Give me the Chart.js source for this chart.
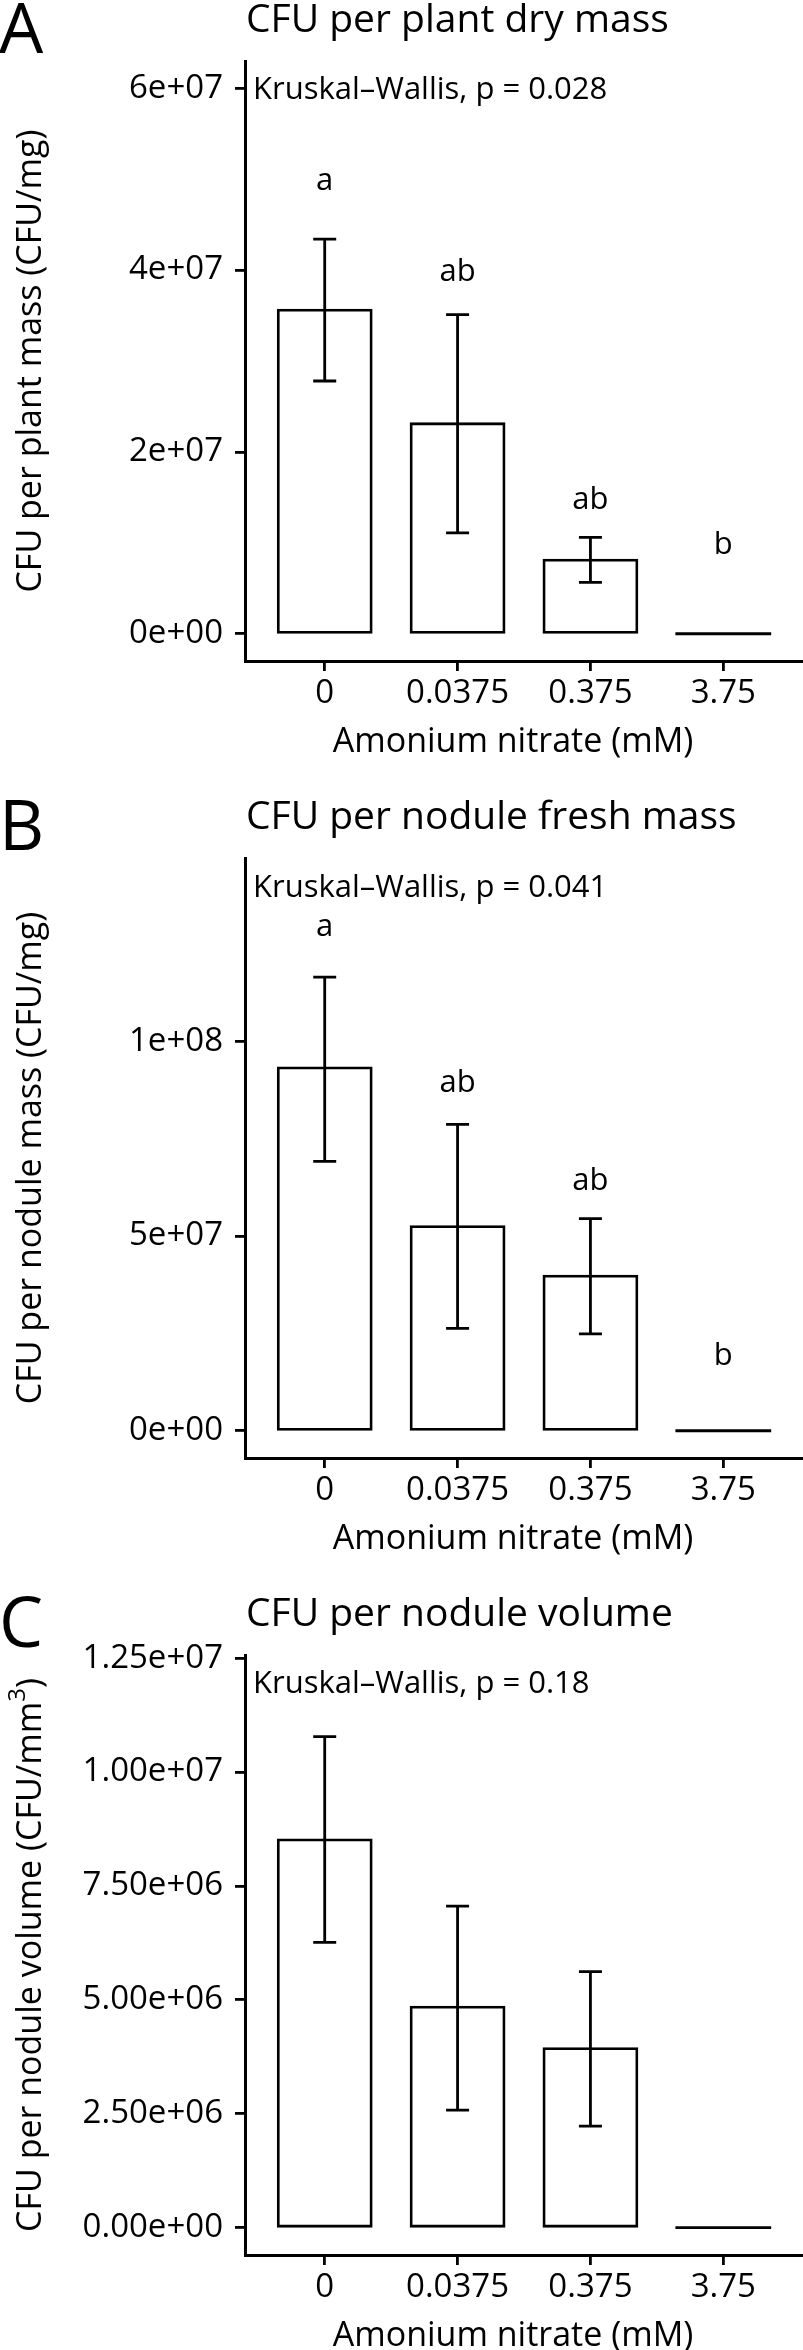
<!DOCTYPE html>
<html><head><meta charset="utf-8">
<script src="https://cdn.jsdelivr.net/npm/chart.js@4.4.1/dist/chart.umd.min.js"></script>
<style>
html,body{margin:0;padding:0;background:#fff;width:803px;height:2350px;overflow:hidden;}
.panel{position:absolute;left:0;width:803px;height:797px;}
canvas{display:block;}
</style></head><body>
<div class="panel" style="top:0px"><canvas id="cA" width="803" height="797"></canvas></div>
<div class="panel" style="top:797px"><canvas id="cB" width="803" height="797"></canvas></div>
<div class="panel" style="top:1594px"><canvas id="cC" width="803" height="797"></canvas></div>
<script>
// ---------- data ----------
const categories = ['0', '0.0375', '0.375', '3.75'];
const xAxisTitle = 'Amonium nitrate (mM)';

// Panel A
const titleA = 'CFU per plant dry mass';
const yTitleA = 'CFU per plant mass (CFU/mg)';
const meanA = [3.56e7, 2.31e7, 0.81e7, 0];
const errLowA = [2.78e7, 1.11e7, 0.565e7, 0];
const errHighA = [4.34e7, 3.51e7, 1.06e7, 0];
const lettersA = ['a', 'ab', 'ab', 'b'];
const letterYA = [4.88e7, 3.875e7, 1.367e7, 0.873e7];
const kwTextA = 'Kruskal–Wallis, p = 0.028';
const kwYA = 6.0e7;
const yTicksA = [0, 2e7, 4e7, 6e7];
const yTickLabelsA = ['0e+00', '2e+07', '4e+07', '6e+07'];
const yRangeA = [-0.3e7, 6.3e7];

// Panel B
const titleB = 'CFU per nodule fresh mass';
const yTitleB = 'CFU per nodule mass (CFU/mg)';
const meanB = [9.32e7, 5.24e7, 3.97e7, 0];
const errLowB = [6.92e7, 2.63e7, 2.49e7, 0];
const errHighB = [11.65e7, 7.87e7, 5.45e7, 0];
const lettersB = ['a', 'ab', 'ab', 'b'];
const letterYB = [12.7e7, 8.70e7, 6.18e7, 1.69e7];
const kwTextB = 'Kruskal–Wallis, p = 0.041';
const kwYB = 1.4e8;
const yTicksB = [0, 5e7, 1e8];
const yTickLabelsB = ['0e+00', '5e+07', '1e+08'];
const yRangeB = [-0.7e7, 1.471e8];

// Panel C
const titleC = 'CFU per nodule volume';
const yTitleC = 'CFU per nodule volume (CFU/mm';
const yTitleSupC = '3';
const yTitleEndC = ')';
const meanC = [8.51e6, 4.84e6, 3.93e6, 0];
const errLowC = [6.26e6, 2.58e6, 2.23e6, 0];
const errHighC = [10.78e6, 7.06e6, 5.62e6, 0];
const lettersC = ['', '', '', ''];
const letterYC = [0, 0, 0, 0];
const kwTextC = 'Kruskal–Wallis, p = 0.18';
const kwYC = 1.197e7;
const yTicksC = [0, 2.5e6, 5e6, 7.5e6, 1e7, 1.25e7];
const yTickLabelsC = ['0.00e+00', '2.50e+06', '5.00e+06', '7.50e+06', '1.00e+07', '1.25e+07'];
const yRangeC = [-0.6e6, 1.257e7];

// ---------- drawing ----------
const FONT = '"Open Sans", "Noto Sans", sans-serif';
Chart.defaults.font.family = FONT;
Chart.defaults.color = '#000';
const LW = 2.8;

function extrasPlugin(p) {
  return {
    id: 'extras' + p.letter,
    afterDatasetsDraw(chart) {
      const ctx = chart.ctx, ys = chart.scales.y, ca = chart.chartArea;
      const meta = chart.getDatasetMeta(0);
      ctx.save();
      ctx.strokeStyle = '#000';
      ctx.fillStyle = '#000';
      ctx.lineWidth = LW;
      p.mean.forEach((v, i) => {
        const bar = meta.data[i];
        const cx = bar.x;
        if (v === 0) {
          const y0 = ys.getPixelForValue(0);
          ctx.beginPath();
          ctx.moveTo(cx - bar.width / 2 - LW / 2, y0);
          ctx.lineTo(cx + bar.width / 2 + LW / 2, y0);
          ctx.stroke();
        }
        if (p.hi[i] !== p.lo[i]) {
          const yh = ys.getPixelForValue(p.hi[i]);
          const yl = ys.getPixelForValue(p.lo[i]);
          const cap = 11.5;
          ctx.beginPath();
          ctx.moveTo(cx, yh); ctx.lineTo(cx, yl);
          ctx.moveTo(cx - cap, yh); ctx.lineTo(cx + cap, yh);
          ctx.moveTo(cx - cap, yl); ctx.lineTo(cx + cap, yl);
          ctx.stroke();
        }
        if (p.letters[i]) {
          ctx.font = '31px ' + FONT;
          ctx.textAlign = 'center';
          ctx.textBaseline = 'alphabetic';
          ctx.fillText(p.letters[i], cx, ys.getPixelForValue(p.letterY[i]));
        }
      });
      // Kruskal-Wallis label
      ctx.font = '31px ' + FONT;
      ctx.textAlign = 'left';
      ctx.textBaseline = 'alphabetic';
      ctx.fillText(p.kw, ca.left + 8, ys.getPixelForValue(p.kwY) + 11);
      // title
      ctx.font = '39px ' + FONT;
      ctx.fillText(p.title, ca.left + 1, 32);
      // panel letter
      ctx.font = '70px ' + FONT;
      ctx.fillText(p.letter, -1, 53);
      // x axis title
      ctx.font = '34px ' + FONT;
      ctx.textAlign = 'center';
      ctx.fillText(xAxisTitle, (ca.left + ca.right) / 2 - 11, 752);
      // y axis title (rotated)
      ctx.translate(41, (ca.top + ca.bottom) / 2);
      ctx.rotate(-Math.PI / 2);
      ctx.font = '34px ' + FONT;
      if (p.yTitleSup) {
        const supFont = '24px ' + FONT;
        const w1 = ctx.measureText(p.yTitle).width;
        ctx.font = supFont;
        const w2 = ctx.measureText(p.yTitleSup).width;
        ctx.font = '34px ' + FONT;
        const w3 = ctx.measureText(p.yTitleEnd).width;
        const x0 = -(w1 + w2 + w3) / 2;
        ctx.textAlign = 'left';
        ctx.fillText(p.yTitle, x0, 0);
        ctx.font = supFont;
        ctx.fillText(p.yTitleSup, x0 + w1, -16);
        ctx.font = '34px ' + FONT;
        ctx.fillText(p.yTitleEnd, x0 + w1 + w2, 0);
      } else {
        ctx.textAlign = 'center';
        ctx.fillText(p.yTitle, 0, 0);
      }
      ctx.restore();
    }
  };
}

function makeChart(id, p) {
  const canvas = document.getElementById(id);
  return new Chart(canvas, {
    type: 'bar',
    data: {
      datasets: [{
        data: categories.map((c, i) => ({ x: i, y: p.mean[i] })),
        backgroundColor: '#ffffff',
        borderColor: '#000000',
        borderWidth: LW,
        borderSkipped: false,
        inflateAmount: LW / 2,
        categoryPercentage: 0.7,
        barPercentage: 1.0
      }]
    },
    options: {
      responsive: false,
      animation: false,
      devicePixelRatio: 1,
      layout: { padding: { top: 61, left: 0, right: 0, bottom: 0 } },
      plugins: { legend: { display: false }, tooltip: { enabled: false }, title: { display: false } },
      scales: {
        x: {
          type: 'linear', min: -0.6, max: 3.6, offset: false,
          afterBuildTicks: s => { s.ticks = categories.map((c, i) => ({ value: i })); },
          afterFit: s => { s.height = 136; },
          ticks: {
            callback: v => categories[v], color: '#000', font: { size: 33, family: FONT },
            padding: 3, maxRotation: 0, autoSkip: false
          },
          grid: { display: true, drawOnChartArea: false, drawTicks: true, tickLength: 10, color: '#000', lineWidth: LW, offset: false },
          border: { display: true, color: '#000', width: 3 }
        },
        y: {
          type: 'linear', min: p.yRange[0], max: p.yRange[1],
          afterBuildTicks: s => { s.ticks = p.yTicks.map(v => ({ value: v })); },
          afterFit: s => { s.width = 245; },
          ticks: {
            callback: (v, i) => p.yTickLabels[i], color: '#000', font: { size: 33, family: FONT },
            padding: 12, autoSkip: false
          },
          grid: { display: true, drawOnChartArea: false, drawTicks: true, tickLength: 10, color: '#000', lineWidth: LW },
          border: { display: true, color: '#000', width: 3 }
        }
      }
    },
    plugins: [extrasPlugin(p)]
  });
}

makeChart('cA', { letter: 'A', title: titleA, yTitle: yTitleA, mean: meanA, lo: errLowA, hi: errHighA,
  letters: lettersA, letterY: letterYA, kw: kwTextA, kwY: kwYA, yTicks: yTicksA, yTickLabels: yTickLabelsA, yRange: yRangeA });
makeChart('cB', { letter: 'B', title: titleB, yTitle: yTitleB, mean: meanB, lo: errLowB, hi: errHighB,
  letters: lettersB, letterY: letterYB, kw: kwTextB, kwY: kwYB, yTicks: yTicksB, yTickLabels: yTickLabelsB, yRange: yRangeB });
makeChart('cC', { letter: 'C', title: titleC, yTitle: yTitleC, yTitleSup: yTitleSupC, yTitleEnd: yTitleEndC, mean: meanC, lo: errLowC, hi: errHighC,
  letters: lettersC, letterY: letterYC, kw: kwTextC, kwY: kwYC, yTicks: yTicksC, yTickLabels: yTickLabelsC, yRange: yRangeC });
</script>
</body></html>
